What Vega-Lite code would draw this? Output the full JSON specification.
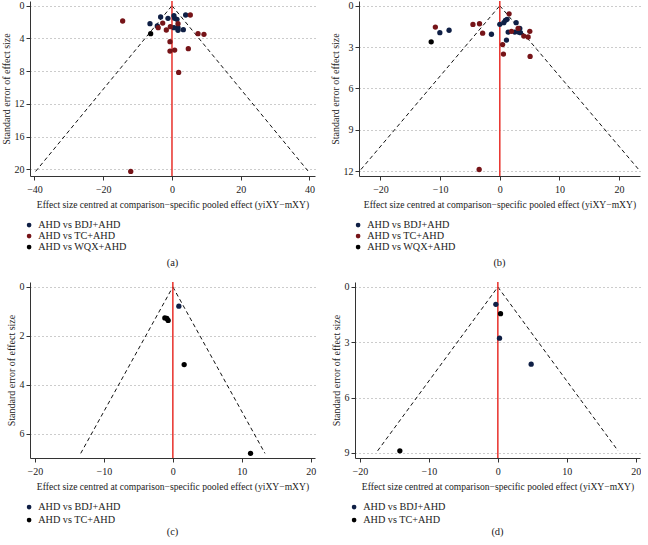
{
  "$schema": "https://vega.github.io/schema/vega-lite/v6.json",
  "background": "white",
  "padding": {"left": 1, "top": 0, "right": 0, "bottom": 0},
  "config": {
    "font": "Liberation Serif",
    "view": {"stroke": null},
    "axis": {
      "labelFont": "Liberation Serif", "titleFont": "Liberation Serif",
      "labelFontSize": 10, "titleFontSize": 10, "titleFontWeight": "normal",
      "labelColor": "#222", "titleColor": "#222",
      "domainColor": "#333", "tickColor": "#333", "tickSize": 4,
      "gridColor": "#999", "gridDash": [1, 3], "gridWidth": 1,
      "labelPadding": 2, "labelOverlap": false
    },
    "axisX": {"grid": false, "titlePadding": 5, "labelPadding": 4, "titleFontSize": 9.6},
    "axisY": {"grid": true, "titlePadding": 3, "labelAngle": 0},
    "legend": {
      "labelFont": "Liberation Serif", "labelFontSize": 10.2, "labelColor": "#222",
      "symbolType": "circle", "symbolSize": 22, "rowPadding": 0,
      "orient": "none", "legendX": -6, "legendY": 219, "direction": "vertical", "title": null
    },
    "title": {"font": "Liberation Serif", "fontSize": 10.5, "fontWeight": "normal", "color": "#222", "orient": "bottom", "anchor": "middle", "offset": 5}
  },
  "datasets": {
    "pts": [
      {"panel": "a", "comp": "AHD vs BDJ+AHD", "x": 3.98, "se": 1.14},
      {"panel": "a", "comp": "AHD vs BDJ+AHD", "x": -3.3, "se": 1.38},
      {"panel": "a", "comp": "AHD vs BDJ+AHD", "x": -6.4, "se": 2.2},
      {"panel": "a", "comp": "AHD vs BDJ+AHD", "x": -1.16, "se": 1.55},
      {"panel": "a", "comp": "AHD vs BDJ+AHD", "x": 0.58, "se": 1.22},
      {"panel": "a", "comp": "AHD vs BDJ+AHD", "x": 0.78, "se": 1.55},
      {"panel": "a", "comp": "AHD vs BDJ+AHD", "x": 1.45, "se": 1.67},
      {"panel": "a", "comp": "AHD vs BDJ+AHD", "x": -4.27, "se": 2.48},
      {"panel": "a", "comp": "AHD vs BDJ+AHD", "x": 1.75, "se": 2.69},
      {"panel": "a", "comp": "AHD vs BDJ+AHD", "x": 1.75, "se": 3.0},
      {"panel": "a", "comp": "AHD vs BDJ+AHD", "x": 3.3, "se": 2.93},
      {"panel": "a", "comp": "AHD vs BDJ+AHD", "x": 0.58, "se": 2.69},
      {"panel": "a", "comp": "AHD vs WQX+AHD", "x": -6.2, "se": 3.42},
      {"panel": "a", "comp": "AHD vs TC+AHD", "x": -14.35, "se": 1.87},
      {"panel": "a", "comp": "AHD vs TC+AHD", "x": 5.33, "se": 1.14},
      {"panel": "a", "comp": "AHD vs TC+AHD", "x": -2.7, "se": 2.12},
      {"panel": "a", "comp": "AHD vs TC+AHD", "x": -4.0, "se": 2.69},
      {"panel": "a", "comp": "AHD vs TC+AHD", "x": -1.65, "se": 2.97},
      {"panel": "a", "comp": "AHD vs TC+AHD", "x": -0.48, "se": 2.57},
      {"panel": "a", "comp": "AHD vs TC+AHD", "x": 1.75, "se": 2.2},
      {"panel": "a", "comp": "AHD vs TC+AHD", "x": 7.57, "se": 3.42},
      {"panel": "a", "comp": "AHD vs TC+AHD", "x": 9.3, "se": 3.5},
      {"panel": "a", "comp": "AHD vs TC+AHD", "x": -0.58, "se": 4.4},
      {"panel": "a", "comp": "AHD vs TC+AHD", "x": -0.58, "se": 5.54},
      {"panel": "a", "comp": "AHD vs TC+AHD", "x": 0.78, "se": 5.42},
      {"panel": "a", "comp": "AHD vs TC+AHD", "x": 4.75, "se": 5.25},
      {"panel": "a", "comp": "AHD vs TC+AHD", "x": 1.94, "se": 8.15},
      {"panel": "a", "comp": "AHD vs TC+AHD", "x": -12.0, "se": 20.24},

      {"panel": "b", "comp": "AHD vs BDJ+AHD", "x": -10.05, "se": 1.96},
      {"panel": "b", "comp": "AHD vs BDJ+AHD", "x": -8.5, "se": 1.78},
      {"panel": "b", "comp": "AHD vs BDJ+AHD", "x": -1.4, "se": 2.07},
      {"panel": "b", "comp": "AHD vs BDJ+AHD", "x": 0.0, "se": 1.35},
      {"panel": "b", "comp": "AHD vs BDJ+AHD", "x": 0.67, "se": 1.23},
      {"panel": "b", "comp": "AHD vs BDJ+AHD", "x": 0.94, "se": 1.06},
      {"panel": "b", "comp": "AHD vs BDJ+AHD", "x": 1.22, "se": 0.99},
      {"panel": "b", "comp": "AHD vs BDJ+AHD", "x": 2.74, "se": 1.23},
      {"panel": "b", "comp": "AHD vs BDJ+AHD", "x": 1.4, "se": 1.91},
      {"panel": "b", "comp": "AHD vs BDJ+AHD", "x": 1.12, "se": 2.49},
      {"panel": "b", "comp": "AHD vs BDJ+AHD", "x": 2.51, "se": 1.91},
      {"panel": "b", "comp": "AHD vs BDJ+AHD", "x": 3.35, "se": 1.65},
      {"panel": "b", "comp": "AHD vs BDJ+AHD", "x": 3.46, "se": 1.96},
      {"panel": "b", "comp": "AHD vs BDJ+AHD", "x": 3.13, "se": 1.91},
      {"panel": "b", "comp": "AHD vs WQX+AHD", "x": -11.5, "se": 2.62},
      {"panel": "b", "comp": "AHD vs TC+AHD", "x": -10.8, "se": 1.55},
      {"panel": "b", "comp": "AHD vs TC+AHD", "x": -4.5, "se": 1.36},
      {"panel": "b", "comp": "AHD vs TC+AHD", "x": -3.4, "se": 1.31},
      {"panel": "b", "comp": "AHD vs TC+AHD", "x": -2.88, "se": 1.99},
      {"panel": "b", "comp": "AHD vs TC+AHD", "x": 1.56, "se": 0.59},
      {"panel": "b", "comp": "AHD vs TC+AHD", "x": 1.96, "se": 1.86},
      {"panel": "b", "comp": "AHD vs TC+AHD", "x": 3.07, "se": 1.65},
      {"panel": "b", "comp": "AHD vs TC+AHD", "x": 4.02, "se": 2.2},
      {"panel": "b", "comp": "AHD vs TC+AHD", "x": 4.75, "se": 2.27},
      {"panel": "b", "comp": "AHD vs TC+AHD", "x": 5.03, "se": 1.86},
      {"panel": "b", "comp": "AHD vs TC+AHD", "x": 0.47, "se": 2.82},
      {"panel": "b", "comp": "AHD vs TC+AHD", "x": 0.61, "se": 3.51},
      {"panel": "b", "comp": "AHD vs TC+AHD", "x": 5.08, "se": 3.68},
      {"panel": "b", "comp": "AHD vs TC+AHD", "x": -3.46, "se": 11.88},

      {"panel": "c", "comp": "AHD vs BDJ+AHD", "x": 0.87, "se": 0.79},
      {"panel": "c", "comp": "AHD vs TC+AHD", "x": -1.16, "se": 1.27},
      {"panel": "c", "comp": "AHD vs TC+AHD", "x": -0.87, "se": 1.29},
      {"panel": "c", "comp": "AHD vs TC+AHD", "x": -0.68, "se": 1.37},
      {"panel": "c", "comp": "AHD vs TC+AHD", "x": 1.64, "se": 3.18},
      {"panel": "c", "comp": "AHD vs TC+AHD", "x": 11.26, "se": 6.81},

      {"panel": "d", "comp": "AHD vs BDJ+AHD", "x": -0.29, "se": 0.94},
      {"panel": "d", "comp": "AHD vs TC+AHD", "x": 0.39, "se": 1.45},
      {"panel": "d", "comp": "AHD vs BDJ+AHD", "x": 0.24, "se": 2.78},
      {"panel": "d", "comp": "AHD vs BDJ+AHD", "x": 4.83, "se": 4.19},
      {"panel": "d", "comp": "AHD vs TC+AHD", "x": -14.2, "se": 8.89}
    ],
    "funnel": [
      {"panel": "a", "side": "L", "x": 0, "se": 0},
      {"panel": "a", "side": "L", "x": -39.67, "se": 20.24},
      {"panel": "a", "side": "R", "x": 0, "se": 0},
      {"panel": "a", "side": "R", "x": 39.67, "se": 20.24},
      {"panel": "b", "side": "L", "x": 0, "se": 0},
      {"panel": "b", "side": "L", "x": -23.28, "se": 11.88},
      {"panel": "b", "side": "R", "x": 0, "se": 0},
      {"panel": "b", "side": "R", "x": 23.28, "se": 11.88},
      {"panel": "c", "side": "L", "x": 0, "se": 0},
      {"panel": "c", "side": "L", "x": -13.35, "se": 6.81},
      {"panel": "c", "side": "R", "x": 0, "se": 0},
      {"panel": "c", "side": "R", "x": 13.35, "se": 6.81},
      {"panel": "d", "side": "L", "x": 0, "se": 0},
      {"panel": "d", "side": "L", "x": -17.42, "se": 8.89},
      {"panel": "d", "side": "R", "x": 0, "se": 0},
      {"panel": "d", "side": "R", "x": 17.42, "se": 8.89}
    ]
  },
  "vconcat": [
    {
      "hconcat": [
        {
          "width": 285, "height": 175,
          "title": "(a)",
          "layer": [
            {
              "data": {"name": "funnel"},
              "transform": [{"filter": "datum.panel == 'a'"}],
              "mark": {"type": "line", "color": "#111", "strokeDash": [4, 3], "strokeWidth": 1},
              "encoding": {
                "x": {"field": "x", "type": "quantitative", "scale": {"domain": [-41.3, 41.6], "nice": false, "zero": false},
                      "axis": {"values": [-40, -20, 0, 20, 40], "labelOverlap": false, "title": "Effect size centred at comparison−specific pooled effect (yiXY−mXY)"}},
                "y": {"field": "se", "type": "quantitative", "scale": {"domain": [-0.57, 20.8], "nice": false, "zero": false, "reverse": true},
                      "axis": {"values": [0, 4, 8, 12, 16, 20], "labelOverlap": false, "tickCount": 6, "title": "Standard error of effect size"}},
                "detail": {"field": "side"}
              }
            },
            {
              "data": {"values": [{}]},
              "mark": {"type": "rule", "color": "#e8302a", "strokeWidth": 1.5},
              "encoding": {"x": {"datum": 0}}
            },
            {
              "data": {"name": "pts"},
              "transform": [{"filter": "datum.panel == 'a'"}],
              "mark": {"type": "circle", "size": 28, "opacity": 1},
              "encoding": {
                "x": {"field": "x", "type": "quantitative"},
                "y": {"field": "se", "type": "quantitative"},
                "color": {"field": "comp", "type": "nominal",
                          "scale": {"domain": ["AHD vs BDJ+AHD", "AHD vs TC+AHD", "AHD vs WQX+AHD"], "range": ["#0f1f45", "#761418", "#000000"]},
                          "legend": {"legendY": 219}}
              }
            }
          ]
        },
        {
          "width": 281, "height": 175,
          "title": "(b)",
          "layer": [
            {
              "data": {"name": "funnel"},
              "transform": [{"filter": "datum.panel == 'b'"}],
              "mark": {"type": "line", "color": "#111", "strokeDash": [4, 3], "strokeWidth": 1},
              "encoding": {
                "x": {"field": "x", "type": "quantitative", "scale": {"domain": [-23.6, 23.5], "nice": false, "zero": false},
                      "axis": {"values": [-20, -10, 0, 10, 20], "title": "Effect size centred at comparison−specific pooled effect (yiXY−mXY)"}},
                "y": {"field": "se", "type": "quantitative", "scale": {"domain": [-0.34, 12.35], "nice": false, "zero": false, "reverse": true},
                      "axis": {"values": [0, 3, 6, 9, 12], "title": "Standard error of effect size"}},
                "detail": {"field": "side"}
              }
            },
            {
              "data": {"values": [{}]},
              "mark": {"type": "rule", "color": "#e8302a", "strokeWidth": 1.5},
              "encoding": {"x": {"datum": 0}}
            },
            {
              "data": {"name": "pts"},
              "transform": [{"filter": "datum.panel == 'b'"}],
              "mark": {"type": "circle", "size": 28, "opacity": 1},
              "encoding": {
                "x": {"field": "x", "type": "quantitative"},
                "y": {"field": "se", "type": "quantitative"},
                "color": {"field": "comp", "type": "nominal",
                          "scale": {"domain": ["AHD vs BDJ+AHD", "AHD vs TC+AHD", "AHD vs WQX+AHD"], "range": ["#0f1f45", "#761418", "#000000"]},
                          "legend": {"legendY": 219}}
              }
            }
          ]
        }
      ],
      "spacing": 15,
      "resolve": {"scale": {"x": "independent", "y": "independent", "color": "independent"}, "legend": {"color": "independent"}}
    },
    {
      "hconcat": [
        {
          "width": 285, "height": 176,
          "title": {"text": "(c)", "offset": 1},
          "layer": [
            {
              "data": {"name": "funnel"},
              "transform": [{"filter": "datum.panel == 'c'"}],
              "mark": {"type": "line", "color": "#111", "strokeDash": [4, 3], "strokeWidth": 1},
              "encoding": {
                "x": {"field": "x", "type": "quantitative", "scale": {"domain": [-20.7, 20.6], "nice": false, "zero": false},
                      "axis": {"values": [-20, -10, 0, 10, 20], "title": "Effect size centred at comparison−specific pooled effect (yiXY−mXY)"}},
                "y": {"field": "se", "type": "quantitative", "scale": {"domain": [-0.2, 7.0], "nice": false, "zero": false, "reverse": true},
                      "axis": {"values": [0, 2, 4, 6], "title": "Standard error of effect size"}},
                "detail": {"field": "side"}
              }
            },
            {
              "data": {"values": [{}]},
              "mark": {"type": "rule", "color": "#e8302a", "strokeWidth": 1.5},
              "encoding": {"x": {"datum": 0}}
            },
            {
              "data": {"name": "pts"},
              "transform": [{"filter": "datum.panel == 'c'"}],
              "mark": {"type": "circle", "size": 28, "opacity": 1},
              "encoding": {
                "x": {"field": "x", "type": "quantitative"},
                "y": {"field": "se", "type": "quantitative"},
                "color": {"field": "comp", "type": "nominal",
                          "scale": {"domain": ["AHD vs BDJ+AHD", "AHD vs TC+AHD"], "range": ["#0f1f45", "#000000"]},
                          "legend": {"legendY": 220, "rowPadding": 2}}
              }
            }
          ]
        },
        {
          "width": 285, "height": 176,
          "title": {"text": "(d)", "offset": 1},
          "layer": [
            {
              "data": {"name": "funnel"},
              "transform": [{"filter": "datum.panel == 'd'"}],
              "mark": {"type": "line", "color": "#111", "strokeDash": [4, 3], "strokeWidth": 1},
              "encoding": {
                "x": {"field": "x", "type": "quantitative", "scale": {"domain": [-20.7, 20.6], "nice": false, "zero": false},
                      "axis": {"values": [-20, -10, 0, 10, 20], "title": "Effect size centred at comparison−specific pooled effect (yiXY−mXY)"}},
                "y": {"field": "se", "type": "quantitative", "scale": {"domain": [-0.27, 9.28], "nice": false, "zero": false, "reverse": true},
                      "axis": {"values": [0, 3, 6, 9], "title": "Standard error of effect size"}},
                "detail": {"field": "side"}
              }
            },
            {
              "data": {"values": [{}]},
              "mark": {"type": "rule", "color": "#e8302a", "strokeWidth": 1.5},
              "encoding": {"x": {"datum": 0}}
            },
            {
              "data": {"name": "pts"},
              "transform": [{"filter": "datum.panel == 'd'"}],
              "mark": {"type": "circle", "size": 28, "opacity": 1},
              "encoding": {
                "x": {"field": "x", "type": "quantitative"},
                "y": {"field": "se", "type": "quantitative"},
                "color": {"field": "comp", "type": "nominal",
                          "scale": {"domain": ["AHD vs BDJ+AHD", "AHD vs TC+AHD"], "range": ["#0f1f45", "#000000"]},
                          "legend": {"legendY": 220, "rowPadding": 2}}
              }
            }
          ]
        }
      ],
      "spacing": 15,
      "resolve": {"scale": {"x": "independent", "y": "independent", "color": "independent"}, "legend": {"color": "independent"}}
    }
  ],
  "spacing": 12,
  "resolve": {"scale": {"x": "independent", "y": "independent", "color": "independent"}, "legend": {"color": "independent"}}
}
